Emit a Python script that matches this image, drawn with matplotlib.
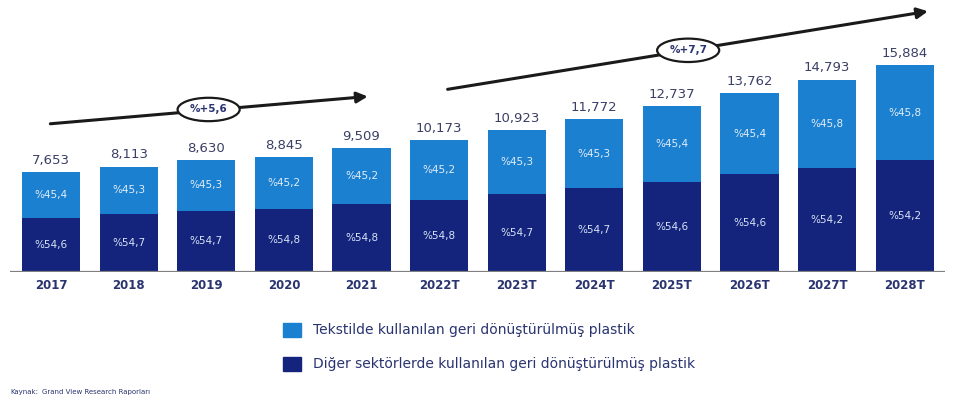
import numpy as np
from matplotlib import pyplot as plt
from matplotlib.patches import Ellipse

# 数据
years = ['2017', '2018', '2019', '2020', '2021', '2022T', '2023T', '2024T',
         '2025T', '2026T', '2027T', '2028T']
totals = [7653, 8113, 8630, 8845, 9509, 10173, 10923, 11772, 12737, 13762, 14793, 15884]
tekstil_pay = [45.4, 45.3, 45.3, 45.2, 45.2, 45.2, 45.3, 45.3, 45.4, 45.4, 45.8, 45.8]
diger_pay = [54.6, 54.7, 54.7, 54.8, 54.8, 54.8, 54.7, 54.7, 54.6, 54.6, 54.2, 54.2]
cagr_labels = ['%+5,6', '%+7,7']
legend_labels = ['Tekstilde kullanılan geri dönüştürülmüş plastik',
                 'Diğer sektörlerde kullanılan geri dönüştürülmüş plastik']

light = '#1b80d0'
dark = '#14247c'
navy_text = '#2a3470'

totals = np.array(totals, dtype=float)
tekstil = totals * np.array(tekstil_pay) / 100
diger = totals * np.array(diger_pay) / 100
x = np.arange(len(years))

fig = plt.figure(figsize=(9.61, 4.03), dpi=100)
ax = fig.add_axes([10 / 961, 131 / 403, 935 / 961, 272 / 403])
ax.set_xlim(-0.53, 11.52)
ax.set_ylim(0, 20920)

# 堆叠柱状图
ax.bar(x, diger, width=0.75, color=dark, zorder=2)
ax.bar(x, tekstil, width=0.75, bottom=diger, color=light, zorder=2)

for i in range(len(years)):
    ax.text(x[i], totals[i] + 400, f'{int(totals[i]):,}', ha='center', va='bottom',
            fontsize=9.5, color='#3a3f66')
    ax.text(x[i], diger[i] / 2, '%' + f'{diger_pay[i]:.1f}'.replace('.', ','),
            ha='center', va='center', fontsize=7.5, color='#d6e2f5')
    ax.text(x[i], diger[i] + tekstil[i] / 2, '%' + f'{tekstil_pay[i]:.1f}'.replace('.', ','),
            ha='center', va='center', fontsize=7.5, color='#e2ecf8')
    ax.text(x[i], -500, years[i], ha='center', va='top', fontsize=8.5,
            fontweight='bold', color=navy_text)

# 底部基线
ax.axhline(0, color='#808080', lw=1.6, zorder=3)

# 增长箭头
arrows = [((-0.01, 11400), (4.08, 13500), (2.03, 12500)),
          ((5.11, 14050), (11.3, 20050), (8.21, 17050))]
for (start, end, mid), label in zip(arrows, cagr_labels):
    ax.annotate('', xy=end, xytext=start,
                arrowprops=dict(arrowstyle='-|>', color='#1a1a1a', lw=2.2,
                                mutation_scale=16, shrinkA=0, shrinkB=0))
    ax.add_patch(Ellipse(mid, width=0.8, height=1800, facecolor='white',
                         edgecolor='#1a1a1a', lw=1.6, zorder=4))
    ax.text(mid[0], mid[1], label, ha='center', va='center', fontsize=7.5,
            fontweight='bold', color=navy_text, zorder=5)

ax.axis('off')

# 图例
for j, (lab, col) in enumerate(zip(legend_labels, [light, dark])):
    yy = 1 - (330 + j * 34) / 403
    fig.patches.append(plt.Rectangle((283 / 961, yy - 7 / 403), 18 / 961, 14 / 403,
                                     color=col, transform=fig.transFigure, figure=fig))
    fig.text(313 / 961, yy, lab, ha='left', va='center', fontsize=10, color=navy_text)

# 来源
fig.text(10 / 961, 1 - 392 / 403, 'Kaynak:', ha='left', va='center', fontsize=5, color=navy_text)
fig.text(42 / 961, 1 - 392 / 403, 'Grand View Research Raporları', ha='left', va='center',
         fontsize=5, color=navy_text)

plt.savefig('out.png', dpi=100)
